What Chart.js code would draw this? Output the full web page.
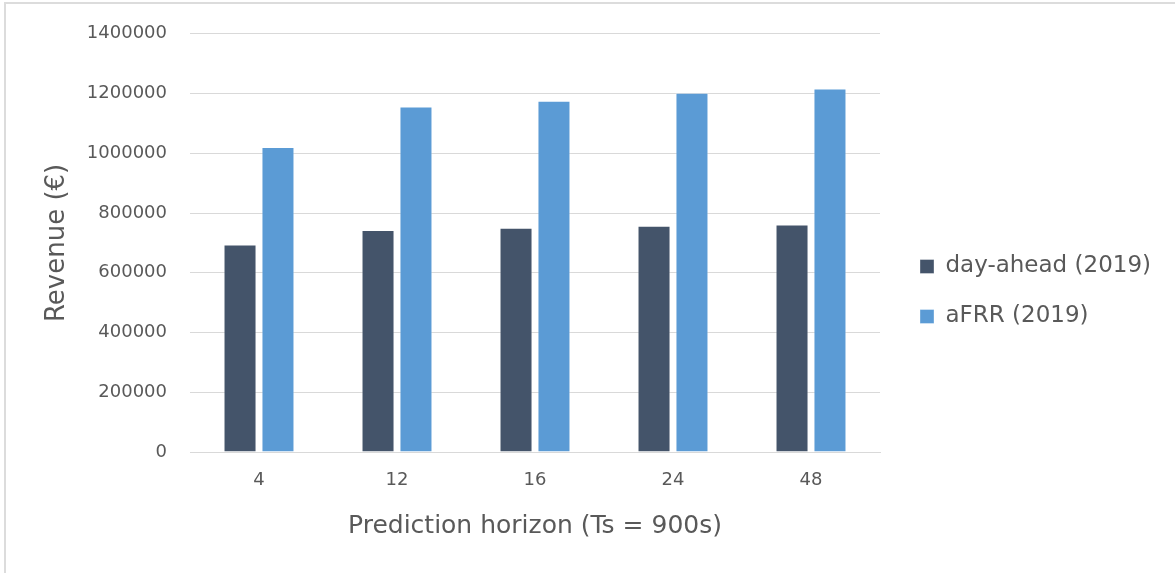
<!DOCTYPE html>
<html>
<head>
<meta charset="utf-8">
<title>Revenue by prediction horizon</title>
<script src="https://cdn.jsdelivr.net/npm/chart.js@4/dist/chart.umd.min.js"></script>
<style>
  html, body { margin: 0; padding: 0; background: #ffffff; overflow: hidden; }
  #wrap { position: relative; width: 1175px; height: 573px; }
  #frame {
    position: absolute; left: 4px; top: 2px; width: 1300px; height: 700px;
    border-top: 2px solid #dcdcdc; border-left: 2px solid #dcdcdc;
  }
  #chart { position: absolute; left: 0; top: 0; }
</style>
</head>
<body>
<div id="wrap">
  <div id="frame"></div>
  <canvas id="chart" width="1175" height="573"></canvas>
</div>
<script>
// Prediction horizons (in steps of Ts = 900 s)
const horizons = ['4', '12', '16', '24', '48'];
// Annual revenue in euros
const dayAheadRevenue = [695000, 743000, 751000, 757000, 762000];
const afrrRevenue = [1021000, 1157000, 1176000, 1203000, 1217000];
// Value axis
const yMin = 0;
const yMax = 1400000;
const yStep = 200000;

const seriesNames = ['day-ahead (2019)', 'aFRR (2019)'];
const seriesColors = ['#44546A', '#5B9BD5'];

const FONT = "'DejaVu Sans', sans-serif";
const TEXT = '#595959';
const GRID = '#d9d9d9';

const legendFontSize = 23;
const legendPad = 27;
const legendBox = 14;
const plotRight = 880;

// Nudge the legend column to its place beside the plot
const legendPlacer = {
  id: 'legendPlacer',
  afterLayout(chart) {
    const lg = chart.legend;
    if (!lg) return;
    const dx = 920 - (lg.left + legendPad);
    const dy = -11;
    lg.left += dx; lg.right += dx;
    lg.top += dy; lg.bottom += dy;
  }
};

const chart = new Chart(document.getElementById('chart'), {
  type: 'bar',
  data: {
    labels: horizons,
    datasets: [
      {
        label: seriesNames[0],
        data: dayAheadRevenue,
        backgroundColor: seriesColors[0],
        borderColor: 'rgba(255,255,255,0.35)',
        borderWidth: 1,
        categoryPercentage: 0.55,
        barPercentage: 0.87
      },
      {
        label: seriesNames[1],
        data: afrrRevenue,
        backgroundColor: seriesColors[1],
        borderColor: 'rgba(255,255,255,0.35)',
        borderWidth: 1,
        categoryPercentage: 0.55,
        barPercentage: 0.87
      }
    ]
  },
  options: {
    responsive: false,
    animation: false,
    devicePixelRatio: 1,
    layout: { padding: { top: 32, left: 0, right: 0, bottom: 0 } },
    plugins: {
      tooltip: { enabled: false },
      legend: {
        position: 'right',
        align: 'center',
        labels: {
          font: { family: FONT, size: legendFontSize },
          color: TEXT,
          boxWidth: legendBox,
          boxHeight: legendBox,
          padding: legendPad
        }
      }
    },
    scales: {
      x: {
        grid: { display: false, drawTicks: false },
        border: { display: true, color: GRID, width: 1 },
        ticks: {
          font: { family: FONT, size: 18 },
          color: TEXT,
          padding: 18,
          maxRotation: 0
        },
        title: {
          display: true,
          text: 'Prediction horizon (Ts = 900s)',
          font: { family: FONT, size: 25 },
          color: TEXT,
          padding: { top: 0, bottom: 32 }
        },
        afterFit(scale) { scale.height = 121; }
      },
      y: {
        min: yMin,
        max: yMax,
        grid: { color: GRID, lineWidth: 1, drawTicks: false },
        border: { display: false },
        ticks: {
          stepSize: yStep,
          font: { family: FONT, size: 18 },
          color: TEXT,
          padding: 23,
          callback: v => String(v)
        },
        title: {
          display: true,
          text: 'Revenue (€)',
          font: { family: FONT, size: 26 },
          color: TEXT,
          padding: { top: 42, bottom: 0 }
        },
        afterFit(scale) { scale.width = 190; }
      }
    }
  },
  plugins: [legendPlacer]
});

// Keep the plot's right edge at a fixed position whatever the legend width
const gap = chart.chartArea.right - plotRight;
if (Math.abs(gap) > 0.5) {
  chart.options.layout.padding.right += gap;
  chart.update();
}
</script>
</body>
</html>
